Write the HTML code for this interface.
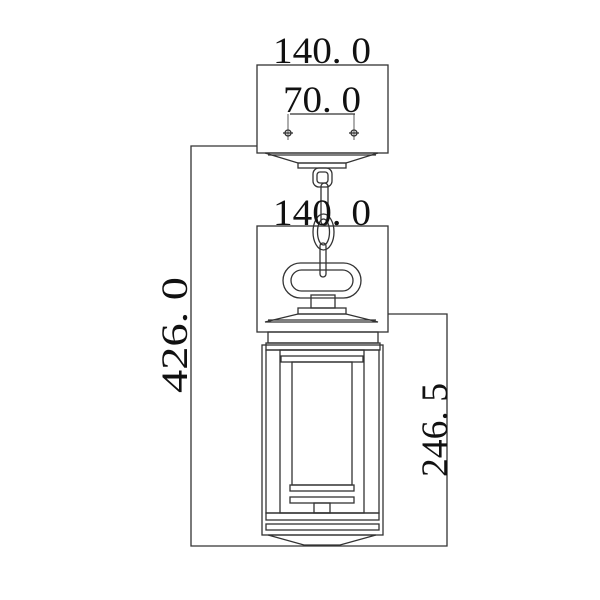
<!DOCTYPE html>
<html><head><style>body{margin:0;background:#fff}svg{display:block}</style></head><body>
<svg width="600" height="600" viewBox="0 0 600 600" xmlns="http://www.w3.org/2000/svg">
<g fill="none" stroke="#333" stroke-width="1.3">
<rect x="257" y="65" width="131" height="88"/>
<line x1="290" y1="114" x2="355" y2="114"/>
<line x1="288" y1="114" x2="288" y2="140" stroke-width="0.8"/>
<line x1="354" y1="114" x2="354" y2="140" stroke-width="0.8"/>
<circle cx="288" cy="133" r="3"/><line x1="283" y1="133" x2="293" y2="133"/>
<circle cx="354" cy="133" r="3"/><line x1="349" y1="133" x2="359" y2="133"/>
<polyline points="257,146 191,146 191,546 447,546 447,314 388,314"/>
<polygon points="265,153 378,153 346,163 298,163"/>
<line x1="268" y1="155" x2="376" y2="155"/>
<rect x="298" y="163" width="48" height="5"/>
<rect x="313" y="168" width="19" height="19" rx="6"/>
<rect x="317" y="172" width="11" height="11" rx="3"/>
<rect x="321" y="183" width="7" height="42" rx="3.5"/>
<ellipse cx="323.5" cy="232" rx="10.5" ry="18"/>
<ellipse cx="323.5" cy="232" rx="6" ry="13"/>
<rect x="320" y="243" width="6" height="34" rx="3"/>
<rect x="283" y="263" width="78" height="35" rx="17.5"/>
<rect x="291" y="270" width="62" height="21" rx="10.5"/>
<rect x="257" y="226" width="131" height="106"/>
<rect x="311" y="295" width="24" height="13"/>
<rect x="298" y="308" width="48" height="6"/>
<polygon points="265,322 378,322 346,314 298,314"/>
<line x1="268" y1="320" x2="376" y2="320"/>
<rect x="268" y="332" width="110" height="11"/>
<rect x="266" y="343" width="114" height="7"/>
<rect x="262" y="345" width="121" height="190"/>
<rect x="266" y="350" width="113" height="163"/>
<rect x="280" y="350" width="84" height="163"/>
<rect x="281" y="356" width="82" height="6"/>
<rect x="292" y="362" width="60" height="123"/>
<rect x="290" y="485" width="64" height="6"/>
<rect x="290" y="497" width="64" height="6"/>
<rect x="314" y="503" width="16" height="10"/>
<rect x="266" y="513" width="113" height="7"/>
<rect x="266" y="524" width="113" height="6"/>
<polygon points="268,535 376,535 340,545 304,545"/>
</g>
<g font-family="Liberation Serif, serif" font-size="37" fill="#111">
<text x="273" y="63" textLength="98" lengthAdjust="spacingAndGlyphs">140. 0</text>
<text x="283" y="112" textLength="78" lengthAdjust="spacingAndGlyphs">70. 0</text>
<text x="273" y="225" textLength="98" lengthAdjust="spacingAndGlyphs">140. 0</text>
<text transform="translate(187,393) rotate(-90)" textLength="116" lengthAdjust="spacingAndGlyphs">426. 0</text>
<text transform="translate(447,477) rotate(-90)" textLength="94" lengthAdjust="spacingAndGlyphs">246. 5</text>
</g>
</svg>
</body></html>
